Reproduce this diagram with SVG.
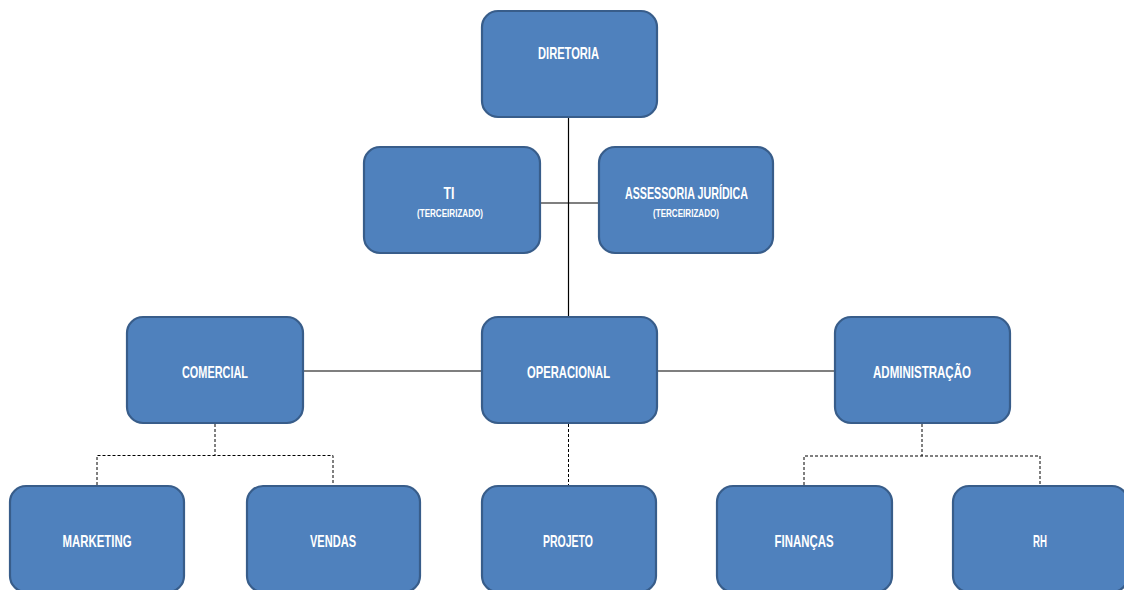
<svg xmlns="http://www.w3.org/2000/svg" width="1124" height="590" viewBox="0 0 1124 590">
<style>
.box{fill:#4F81BD;stroke:#385D8A;stroke-width:2.2}
.t{fill:#FFFFFF;font-family:"Liberation Sans",Arial,sans-serif;font-weight:bold;font-size:16.5px;text-anchor:middle}
.s{fill:#FFFFFF;font-family:"Liberation Sans",Arial,sans-serif;font-weight:bold;font-size:11px;text-anchor:middle}
.solid{fill:none;stroke:#000000;stroke-width:1.2}
.dash{fill:none;stroke:#000000;stroke-width:1;stroke-dasharray:3,2}
</style>
<rect width="1124" height="590" fill="#FFFFFF"/>
<g id="connectors">
<line class="solid" x1="568.5" y1="117" x2="568.5" y2="316"/>
<line class="solid" x1="540" y1="203" x2="599" y2="203"/>
<line class="solid" x1="303" y1="371" x2="482" y2="371"/>
<line class="solid" x1="657" y1="371" x2="835" y2="371"/>
<polyline class="dash" points="215,424 215,455.5"/>
<polyline class="dash" points="97,485 97,455.5 333,455.5 333,485"/>
<line class="dash" x1="568.5" y1="424" x2="568.5" y2="485"/>
<polyline class="dash" points="922,424 922,456"/>
<polyline class="dash" points="804,485 804,456 1040,456 1040,485"/>
</g>
<g id="diretoria"><rect class="box" x="482" y="11" width="175" height="106" rx="16"/><text class="t" x="568.5" y="58.5" textLength="61" lengthAdjust="spacingAndGlyphs">DIRETORIA</text></g>
<g id="ti"><rect class="box" x="364" y="147" width="176" height="106" rx="16"/><text class="t" x="449" y="198.5" textLength="11" lengthAdjust="spacingAndGlyphs">TI</text><text class="s" x="450" y="217" textLength="66" lengthAdjust="spacingAndGlyphs">(TERCEIRIZADO)</text></g>
<g id="assessoria"><rect class="box" x="599" y="147" width="174" height="106" rx="16"/><text class="t" x="686.5" y="198.5" textLength="123" lengthAdjust="spacingAndGlyphs">ASSESSORIA JURÍDICA</text><text class="s" x="686" y="217" textLength="66" lengthAdjust="spacingAndGlyphs">(TERCEIRIZADO)</text></g>
<g id="comercial"><rect class="box" x="127" y="317" width="176" height="106" rx="16"/><text class="t" x="215" y="377.5" textLength="66" lengthAdjust="spacingAndGlyphs">COMERCIAL</text></g>
<g id="operacional"><rect class="box" x="482" y="317" width="175" height="106" rx="16"/><text class="t" x="568.5" y="377.5" textLength="83" lengthAdjust="spacingAndGlyphs">OPERACIONAL</text></g>
<g id="administracao"><rect class="box" x="835" y="317" width="175" height="106" rx="16"/><text class="t" x="922" y="377.5" textLength="98" lengthAdjust="spacingAndGlyphs">ADMINISTRAÇÃO</text></g>
<g id="marketing"><rect class="box" x="10" y="486" width="174" height="106" rx="16"/><text class="t" x="97" y="546.5" textLength="69" lengthAdjust="spacingAndGlyphs">MARKETING</text></g>
<g id="vendas"><rect class="box" x="247" y="486" width="173" height="106" rx="16"/><text class="t" x="333" y="546.5" textLength="46" lengthAdjust="spacingAndGlyphs">VENDAS</text></g>
<g id="projeto"><rect class="box" x="482" y="486" width="174" height="106" rx="16"/><text class="t" x="568" y="546.5" textLength="50" lengthAdjust="spacingAndGlyphs">PROJETO</text></g>
<g id="financas"><rect class="box" x="717" y="486" width="175" height="106" rx="16"/><text class="t" x="804" y="546.5" textLength="59" lengthAdjust="spacingAndGlyphs">FINANÇAS</text></g>
<g id="rh"><rect class="box" x="953" y="486" width="175" height="106" rx="16"/><text class="t" x="1040" y="546.5" textLength="14" lengthAdjust="spacingAndGlyphs">RH</text></g>
</svg>
